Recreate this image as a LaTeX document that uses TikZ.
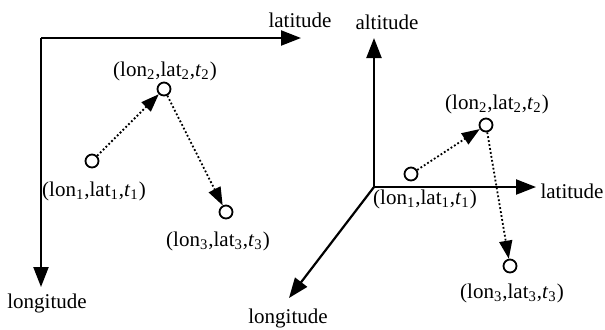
\documentclass[tikz,border=0pt]{standalone}
\usepackage{fontspec}
\setmainfont{Liberation Serif}
\usetikzlibrary{arrows.meta}
\begin{document}
\begin{tikzpicture}[x=0.5pt,y=-0.5pt,
  axis/.style={line width=1.1pt,-{Triangle[length=10pt,width=7.5pt]}},
  traj/.style={line width=0.9pt,dash pattern=on 0.9pt off 1.1pt,-{Triangle[length=9pt,width=6.5pt]}},
  pt/.style={circle,draw,line width=0.9pt,minimum size=6.5pt,inner sep=0pt,fill=white},
  lbl/.style={inner sep=0pt,font=\fontsize{10.5}{12}\selectfont}]
\useasboundingbox (0,0) rectangle (605,329);
% left panel
\coordinate (lo) at (41,38);
\coordinate (lx) at (301,38);
\coordinate (ly) at (41,287);
\draw[axis] (41,38) -- (lx);
\draw[axis] (lo) -- (ly);
\node[lbl] (llat) at (300,20) {latitude};
\node[lbl] (llon) at (47,303) {longitude};
\node[pt] (a1) at (92,161) {};
\node[pt] (a2) at (164,89) {};
\node[pt] (a3) at (226,212) {};
\draw[traj] (a1) -- (a2);
\draw[traj] (a2) -- (a3);
\node[lbl] (la1) at (94,191) {(lon\textsubscript{1},lat\textsubscript{1},\textit{t}\textsubscript{1})};
\node[lbl] (la2) at (165,71) {(lon\textsubscript{2},lat\textsubscript{2},\textit{t}\textsubscript{2})};
\node[lbl] (la3) at (218,241) {(lon\textsubscript{3},lat\textsubscript{3},\textit{t}\textsubscript{3})};
% right panel
\coordinate (ro) at (374,187);
\coordinate (rz) at (374,38);
\coordinate (rx) at (536,187);
\coordinate (ry) at (289,298);
\draw[axis] (ro) -- (rz);
\draw[axis] (ro) -- (rx);
\draw[axis] (ro) -- (ry);
\node[lbl] (ralt) at (387,22) {altitude};
\node[lbl] (rlat) at (572,191) {latitude};
\node[lbl] (rlon) at (288,318) {longitude};
\node[pt] (b1) at (411,174) {};
\node[pt] (b2) at (486,125) {};
\node[pt] (b3) at (510,266) {};
\draw[traj] (b1) -- (b2);
\draw[traj] (b2) -- (b3);
\node[lbl] (lb1) at (425,199) {(lon\textsubscript{1},lat\textsubscript{1},\textit{t}\textsubscript{1})};
\node[lbl] (lb2) at (497,104) {(lon\textsubscript{2},lat\textsubscript{2},\textit{t}\textsubscript{2})};
\node[lbl] (lb3) at (512,293) {(lon\textsubscript{3},lat\textsubscript{3},\textit{t}\textsubscript{3})};
\end{tikzpicture}
\end{document}
